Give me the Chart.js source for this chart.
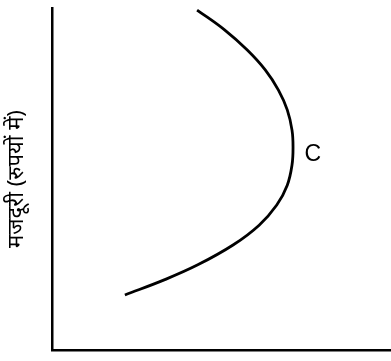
<!DOCTYPE html>
<html>
<head>
<meta charset="utf-8">
<script src="https://cdn.jsdelivr.net/npm/chart.js@4.4.0/dist/chart.umd.min.js"></script>
<style>
  html, body { margin: 0; padding: 0; background: #fff; }
  #wrap { width: 391px; height: 361px; }
</style>
</head>
<body>
<div id="wrap"><canvas id="curveChart"></canvas></div>
<script>
// labour supply (x) vs wage (y)
const labourSupply = [4.28, 5.09, 5.76, 6.29, 6.68, 6.94, 7.08, 7.11, 7.08, 6.94, 6.63, 6.11, 5.34, 4.30, 3.31, 2.15];
const wageLevel    = [9.94, 9.36, 8.77, 8.19, 7.60, 7.02, 6.43, 5.94, 5.41, 4.82, 4.24, 3.65, 3.07, 2.49, 2.05, 1.61];
const curveLabel = 'C';
const labelAt = [7.69, 5.70];
const yAxisTitle = 'मजदूरी (रुपयों में)';

document.addEventListener('DOMContentLoaded', function() {
  const points = labourSupply.map((x, i) => ({ x: x, y: wageLevel[i] }));

  // writes the curve's letter next to it
  const curveTag = {
    id: 'curveTag',
    afterDatasetsDraw(chart) {
      const ctx = chart.ctx;
      ctx.save();
      ctx.fillStyle = '#000';
      ctx.font = '23px "Liberation Sans", sans-serif';
      ctx.textAlign = 'center';
      ctx.textBaseline = 'middle';
      ctx.fillText(curveLabel,
        chart.scales.x.getPixelForValue(labelAt[0]),
        chart.scales.y.getPixelForValue(labelAt[1]));
      ctx.restore();
    }
  };

  const ctx = document.getElementById('curveChart').getContext('2d');
  new Chart(ctx, {
    type: 'scatter',
    data: {
      datasets: [{
        data: points,
        showLine: true,
        borderColor: '#000',
        borderWidth: 2.8,
        tension: 0.4,
        pointRadius: 0,
        fill: false
      }]
    },
    options: {
      responsive: true,
      maintainAspectRatio: false,
      animation: false,
      layout: { padding: { top: 8, right: 0, bottom: 0, left: 0 } },
      plugins: { legend: { display: false }, tooltip: { enabled: false } },
      scales: {
        x: {
          type: 'linear', min: 0, max: 10,
          grid: { display: false },
          ticks: { display: false },
          border: { display: true, color: '#000', width: 2.5 },
          afterFit(scale) { scale.height = 11; }
        },
        y: {
          type: 'linear', min: 0, max: 10,
          grid: { display: false },
          ticks: { display: false },
          border: { display: true, color: '#000', width: 2.5 },
          title: {
            display: true,
            text: yAxisTitle,
            color: '#000',
            font: { size: 22, family: '"Noto Sans", sans-serif' },
            padding: { top: 4, bottom: 0 }
          },
          afterFit(scale) { scale.width = 52; }
        }
      }
    },
    plugins: [curveTag]
  });
});
</script>
</body>
</html>
